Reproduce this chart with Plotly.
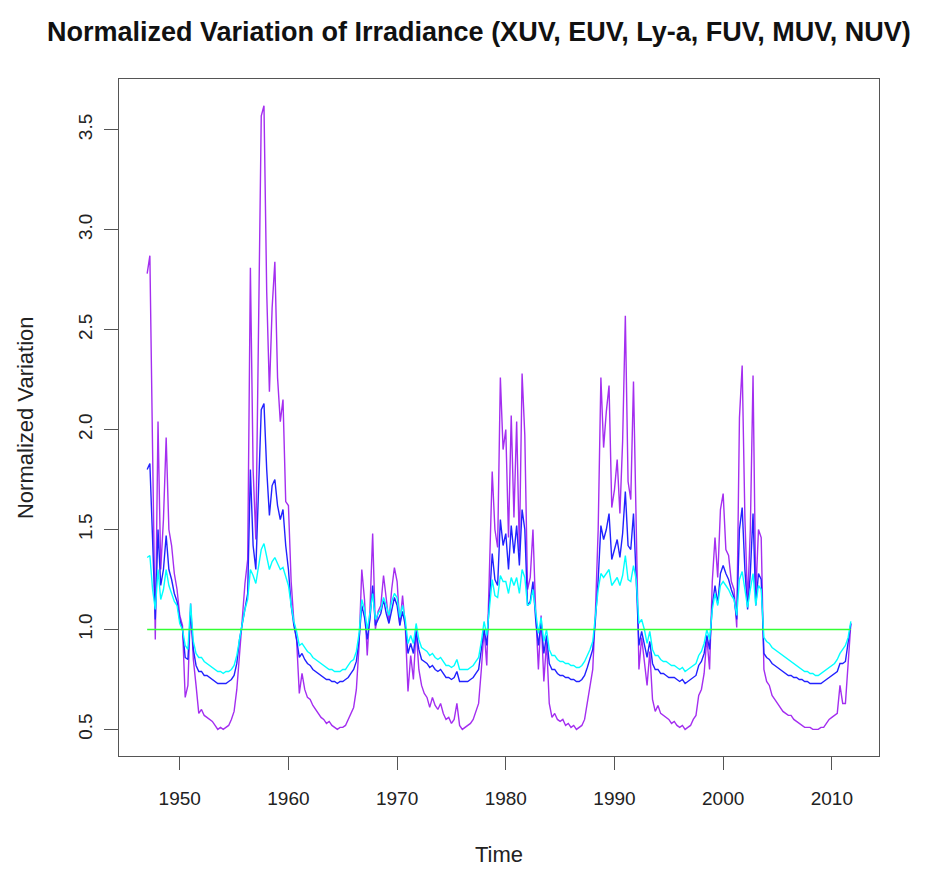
import plotly.graph_objects as go

# Quarterly sample times (1947.00 ... 2011.75)
years = [1947 + q / 4 for q in range(260)]

# XUV (purple) normalized variation, 4 values per year
xuv = [
    2.78, 2.87, 1.90, 0.95,   # 1947
    2.04, 1.30, 1.55, 1.96,   # 1948
    1.50, 1.42, 1.28, 1.20,   # 1949
    1.07, 1.02, 0.66, 0.72,   # 1950
    1.13, 0.85, 0.72, 0.58,   # 1951
    0.60, 0.57, 0.56, 0.55,   # 1952
    0.54, 0.52, 0.50, 0.51,   # 1953
    0.50, 0.51, 0.52, 0.55,   # 1954
    0.59, 0.70, 0.90, 1.05,   # 1955
    1.23, 1.35, 2.81, 1.80,   # 1956
    1.45, 2.48, 3.57, 3.62,   # 1957
    2.69, 2.19, 2.61, 2.84,   # 1958
    2.26, 2.04, 2.15, 1.64,   # 1959
    1.62, 1.24, 1.04, 0.95,   # 1960
    0.68, 0.78, 0.70, 0.66,   # 1961
    0.65, 0.62, 0.60, 0.58,   # 1962
    0.56, 0.55, 0.53, 0.54,   # 1963
    0.52, 0.51, 0.50, 0.51,   # 1964
    0.51, 0.52, 0.55, 0.58,   # 1965
    0.61, 0.70, 0.92, 1.30,   # 1966
    1.15, 0.87, 1.10, 1.48,   # 1967
    1.00, 1.09, 1.12, 1.27,   # 1968
    1.15, 1.04, 1.20, 1.31,   # 1969
    1.24, 1.02, 1.17, 1.02,   # 1970
    0.69, 0.87, 0.75, 1.00,   # 1971
    0.80, 0.72, 0.68, 0.66,   # 1972
    0.61, 0.66, 0.62, 0.60,   # 1973
    0.63, 0.58, 0.55, 0.56,   # 1974
    0.53, 0.55, 0.63, 0.52,   # 1975
    0.50, 0.51, 0.52, 0.53,   # 1976
    0.55, 0.59, 0.63, 0.80,   # 1977
    1.00, 0.82, 1.30, 1.79,   # 1978
    1.50, 1.41, 2.26, 1.90,   # 1979
    2.00, 1.46, 2.07, 1.56,   # 1980
    2.04, 1.39, 2.28, 1.97,   # 1981
    1.20, 1.26, 1.50, 1.09,   # 1982
    0.80, 1.07, 0.74, 0.94,   # 1983
    0.63, 0.56, 0.58, 0.55,   # 1984
    0.54, 0.55, 0.52, 0.53,   # 1985
    0.51, 0.52, 0.50, 0.51,   # 1986
    0.52, 0.55, 0.63, 0.70,   # 1987
    0.80, 1.09, 1.50, 2.26,   # 1988
    1.91, 2.09, 2.22, 1.61,   # 1989
    1.70, 1.85, 1.58, 1.94,   # 1990
    2.57, 1.74, 1.65, 2.24,   # 1991
    1.41, 0.80, 0.96, 0.85,   # 1992
    0.72, 0.89, 0.65, 0.59,   # 1993
    0.62, 0.58, 0.57, 0.56,   # 1994
    0.55, 0.53, 0.54, 0.52,   # 1995
    0.51, 0.52, 0.50, 0.51,   # 1996
    0.52, 0.55, 0.57, 0.67,   # 1997
    0.70, 0.78, 0.96, 0.80,   # 1998
    1.24, 1.46, 1.26, 1.60,   # 1999
    1.68, 1.40, 1.37, 1.24,   # 2000
    1.20, 1.01, 2.06, 2.32,   # 2001
    1.56, 1.13, 1.50, 2.27,   # 2002
    1.17, 1.50, 1.46, 0.80,   # 2003
    0.74, 0.72, 0.67, 0.65,   # 2004
    0.63, 0.61, 0.59, 0.58,   # 2005
    0.57, 0.57, 0.55, 0.54,   # 2006
    0.53, 0.52, 0.51, 0.51,   # 2007
    0.51, 0.50, 0.50, 0.50,   # 2008
    0.51, 0.51, 0.53, 0.55,   # 2009
    0.56, 0.57, 0.58, 0.72,   # 2010
    0.63, 0.63, 0.85, 1.03,   # 2011
]

# EUV (blue)
euv = [
    1.80, 1.83, 1.45, 1.05,   # 1947
    1.50, 1.22, 1.30, 1.47,   # 1948
    1.30, 1.25, 1.18, 1.14,   # 1949
    1.05, 1.00, 0.86, 0.85,   # 1950
    1.09, 0.90, 0.82, 0.79,   # 1951
    0.79, 0.77, 0.77, 0.76,   # 1952
    0.75, 0.74, 0.73, 0.73,   # 1953
    0.73, 0.73, 0.74, 0.75,   # 1954
    0.77, 0.83, 0.95, 1.03,   # 1955
    1.12, 1.18, 1.80, 1.42,   # 1956
    1.30, 1.70, 2.10, 2.13,   # 1957
    1.80, 1.57, 1.72, 1.75,   # 1958
    1.62, 1.55, 1.60, 1.42,   # 1959
    1.30, 1.12, 1.02, 0.95,   # 1960
    0.86, 0.88, 0.85, 0.83,   # 1961
    0.82, 0.80, 0.79, 0.78,   # 1962
    0.77, 0.76, 0.75, 0.75,   # 1963
    0.74, 0.74, 0.73, 0.74,   # 1964
    0.74, 0.75, 0.76, 0.78,   # 1965
    0.80, 0.84, 0.95, 1.12,   # 1966
    1.06, 0.95, 1.05, 1.22,   # 1967
    1.02, 1.05, 1.08, 1.15,   # 1968
    1.08, 1.03, 1.10, 1.16,   # 1969
    1.12, 1.02, 1.09, 1.02,   # 1970
    0.88, 0.93, 0.88, 0.99,   # 1971
    0.90, 0.85, 0.84, 0.83,   # 1972
    0.81, 0.82, 0.80, 0.79,   # 1973
    0.80, 0.78, 0.76, 0.76,   # 1974
    0.75, 0.76, 0.79, 0.74,   # 1975
    0.74, 0.74, 0.74, 0.75,   # 1976
    0.76, 0.78, 0.80, 0.90,   # 1977
    1.00, 0.92, 1.15, 1.38,   # 1978
    1.25, 1.22, 1.55, 1.42,   # 1979
    1.48, 1.30, 1.52, 1.38,   # 1980
    1.52, 1.32, 1.60, 1.50,   # 1981
    1.12, 1.14, 1.24, 1.05,   # 1982
    0.92, 1.04, 0.88, 0.97,   # 1983
    0.83, 0.80, 0.80, 0.78,   # 1984
    0.77, 0.77, 0.76, 0.76,   # 1985
    0.75, 0.75, 0.74, 0.74,   # 1986
    0.75, 0.77, 0.81, 0.85,   # 1987
    0.90, 1.05, 1.25, 1.52,   # 1988
    1.45, 1.50, 1.58, 1.35,   # 1989
    1.40, 1.45, 1.36, 1.48,   # 1990
    1.69, 1.42, 1.40, 1.58,   # 1991
    1.25, 0.92, 0.99, 0.93,   # 1992
    0.86, 0.94, 0.83, 0.80,   # 1993
    0.80, 0.78, 0.78, 0.77,   # 1994
    0.76, 0.76, 0.76, 0.75,   # 1995
    0.74, 0.75, 0.73, 0.74,   # 1996
    0.75, 0.76, 0.77, 0.82,   # 1997
    0.84, 0.88, 0.97, 0.90,   # 1998
    1.12, 1.22, 1.13, 1.28,   # 1999
    1.32, 1.28, 1.25, 1.20,   # 2000
    1.16, 1.05, 1.50, 1.61,   # 2001
    1.30, 1.10, 1.28, 1.58,   # 2002
    1.12, 1.28, 1.25, 0.88,   # 2003
    0.86, 0.85, 0.83, 0.82,   # 2004
    0.81, 0.80, 0.79, 0.78,   # 2005
    0.77, 0.77, 0.76, 0.76,   # 2006
    0.75, 0.75, 0.74, 0.74,   # 2007
    0.73, 0.73, 0.73, 0.73,   # 2008
    0.73, 0.74, 0.75, 0.76,   # 2009
    0.77, 0.78, 0.79, 0.83,   # 2010
    0.83, 0.84, 0.93, 1.03,   # 2011
]

# Ly-a (cyan)
lya = [
    1.36, 1.37, 1.20, 1.10,   # 1947
    1.30, 1.15, 1.20, 1.30,   # 1948
    1.22, 1.18, 1.14, 1.12,   # 1949
    1.03, 1.00, 0.92, 0.90,   # 1950
    1.13, 0.94, 0.88, 0.86,   # 1951
    0.86, 0.84, 0.83, 0.82,   # 1952
    0.81, 0.80, 0.79, 0.79,   # 1953
    0.78, 0.79, 0.79, 0.80,   # 1954
    0.82, 0.87, 0.96, 1.03,   # 1955
    1.10, 1.15, 1.30, 1.27,   # 1956
    1.23, 1.32, 1.40, 1.43,   # 1957
    1.36, 1.30, 1.34, 1.36,   # 1958
    1.33, 1.30, 1.31, 1.27,   # 1959
    1.22, 1.12, 1.04, 0.99,   # 1960
    0.92, 0.93, 0.91, 0.89,   # 1961
    0.88, 0.86, 0.85, 0.84,   # 1962
    0.83, 0.82, 0.81, 0.80,   # 1963
    0.80, 0.79, 0.79, 0.79,   # 1964
    0.80, 0.80, 0.82, 0.84,   # 1965
    0.85, 0.89, 0.98, 1.15,   # 1966
    1.10, 1.00, 1.08, 1.18,   # 1967
    1.05, 1.08, 1.10, 1.16,   # 1968
    1.12, 1.07, 1.14, 1.18,   # 1969
    1.16, 1.06, 1.12, 1.05,   # 1970
    0.93, 0.97, 0.93, 1.03,   # 1971
    0.95, 0.91, 0.90, 0.89,   # 1972
    0.87, 0.88, 0.86, 0.85,   # 1973
    0.86, 0.84, 0.82, 0.82,   # 1974
    0.81, 0.82, 0.85, 0.80,   # 1975
    0.80, 0.80, 0.80, 0.81,   # 1976
    0.82, 0.84, 0.86, 0.94,   # 1977
    1.04, 0.97, 1.12, 1.25,   # 1978
    1.17, 1.16, 1.27, 1.24,   # 1979
    1.24, 1.18, 1.26, 1.22,   # 1980
    1.26, 1.18, 1.30, 1.26,   # 1981
    1.12, 1.13, 1.20, 1.08,   # 1982
    0.98, 1.06, 0.94, 1.00,   # 1983
    0.90, 0.87, 0.87, 0.85,   # 1984
    0.84, 0.84, 0.83, 0.83,   # 1985
    0.82, 0.82, 0.81, 0.81,   # 1986
    0.82, 0.84, 0.87, 0.90,   # 1987
    0.94, 1.07, 1.20, 1.28,   # 1988
    1.26, 1.28, 1.30, 1.22,   # 1989
    1.24, 1.26, 1.22, 1.27,   # 1990
    1.37, 1.25, 1.24, 1.32,   # 1991
    1.25, 1.03, 1.05, 1.00,   # 1992
    0.93, 0.99, 0.90, 0.87,   # 1993
    0.87, 0.85, 0.84, 0.84,   # 1994
    0.83, 0.82, 0.82, 0.81,   # 1995
    0.80, 0.81, 0.79, 0.80,   # 1996
    0.81, 0.82, 0.83, 0.87,   # 1997
    0.89, 0.93, 1.00, 0.95,   # 1998
    1.10, 1.18, 1.12, 1.22,   # 1999
    1.24, 1.22, 1.20, 1.17,   # 2000
    1.15, 1.07, 1.25, 1.29,   # 2001
    1.20, 1.11, 1.20, 1.28,   # 2002
    1.12, 1.22, 1.20, 0.96,   # 2003
    0.94, 0.93, 0.91, 0.90,   # 2004
    0.89, 0.88, 0.87, 0.86,   # 2005
    0.85, 0.84, 0.83, 0.82,   # 2006
    0.81, 0.80, 0.79, 0.79,   # 2007
    0.78, 0.78, 0.77, 0.77,   # 2008
    0.78, 0.79, 0.80, 0.81,   # 2009
    0.82, 0.83, 0.85, 0.88,   # 2010
    0.90, 0.92, 0.96, 1.04,   # 2011
]

# NUV (green) sits at the normalization level
nuv = [1.0] * len(years)

x_ticks = [1950, 1960, 1970, 1980, 1990, 2000, 2010]
y_ticks = [0.5, 1.0, 1.5, 2.0, 2.5, 3.0, 3.5]

title_text = "Normalized Variation of Irradiance (XUV, EUV, Ly-a, FUV, MUV, NUV)"
FONT = "Liberation Sans, Arial, Helvetica, sans-serif"

fig = go.Figure()
for vals, col in [(xuv, "#A42EF0"), (euv, "#2222ff"), (lya, "#00FFFF"), (nuv, "#33FF33")]:
    fig.add_trace(go.Scatter(x=years, y=vals, mode="lines",
                             line=dict(color=col, width=1.4),
                             showlegend=False, hoverinfo="skip"))

axis_common = dict(showgrid=False, zeroline=False, showline=True, mirror=True,
                   linecolor="#555555", linewidth=1.3, ticks="outside",
                   tickcolor="#555555", tickwidth=1.3,
                   tickfont=dict(family=FONT, size=19, color="#222222"))

fig.update_layout(
    width=944, height=871,
    margin=dict(l=119, r=65, t=79, b=115),
    paper_bgcolor="white", plot_bgcolor="white",
    xaxis=dict(range=[1944.41, 2014.34], tickvals=x_ticks, ticklen=13,
               ticklabelstandoff=12, **axis_common),
    yaxis=dict(range=[0.367, 3.754], tickvals=y_ticks, tickformat=".1f",
               tickangle=-90, ticklen=14, ticklabelstandoff=4, **axis_common),
    annotations=[
        dict(text="<b>" + title_text + "</b>", x=-0.0974, y=1.0694, xref="paper", yref="paper",
             xanchor="left", yanchor="middle", showarrow=False,
             font=dict(family=FONT, size=27, color="#111111")),
        dict(text="Time", x=0.5, y=-0.146, xref="paper", yref="paper",
             xanchor="center", yanchor="middle", showarrow=False,
             font=dict(family=FONT, size=22, color="#222222")),
        dict(text="Normalized Variation", x=-0.1237, y=0.5007, xref="paper", yref="paper",
             xanchor="center", yanchor="middle", showarrow=False, textangle=-90,
             font=dict(family=FONT, size=22, color="#222222")),
    ],
)

fig.write_html("out.html")
